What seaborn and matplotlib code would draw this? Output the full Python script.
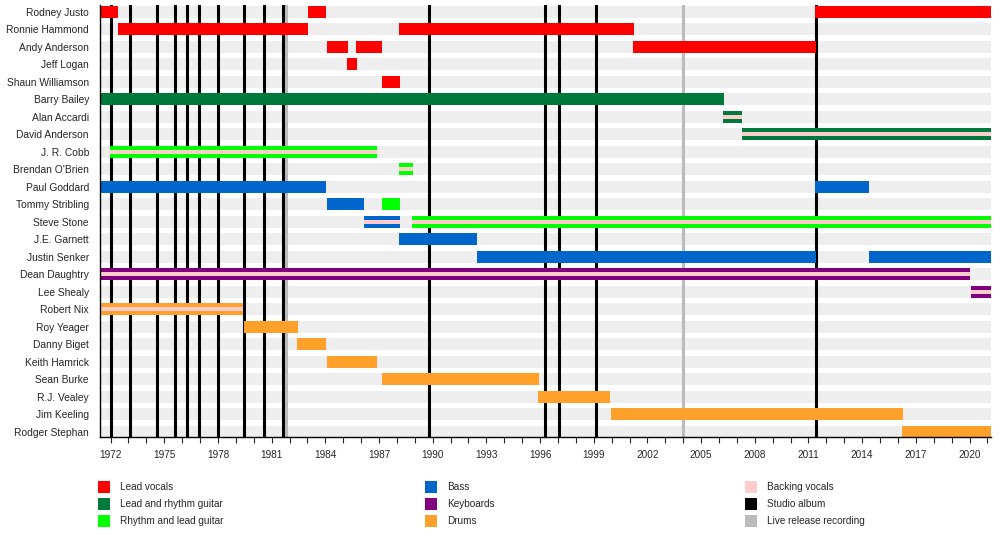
import matplotlib
matplotlib.use("Agg")
import matplotlib.pyplot as plt
import seaborn as sns
from matplotlib.patches import Rectangle

# ---------------------------------------------------------------- data
members = [
    "Rodney Justo", "Ronnie Hammond", "Andy Anderson", "Jeff Logan",
    "Shaun Williamson", "Barry Bailey", "Alan Accardi", "David Anderson",
    "J. R. Cobb", "Brendan O'Brien", "Paul Goddard", "Tommy Stribling",
    "Steve Stone", "J.E. Garnett", "Justin Senker", "Dean Daughtry",
    "Lee Shealy", "Robert Nix", "Roy Yeager", "Danny Biget",
    "Keith Hamrick", "Sean Burke", "R.J. Vealey", "Jim Keeling",
    "Rodger Stephan",
]

# (member, start, end, sings backing vocals)
lead_vocals = [
    ("Rodney Justo", 1971.41, 1972.42, False),
    ("Rodney Justo", 1983.05, 1984.02, False),
    ("Rodney Justo", 2011.38, 2021.2, False),
    ("Ronnie Hammond", 1972.42, 1983.05, False),
    ("Ronnie Hammond", 1988.12, 2001.25, False),
    ("Andy Anderson", 1984.08, 1985.27, False),
    ("Andy Anderson", 1985.72, 1987.17, False),
    ("Andy Anderson", 2001.2, 2011.4, False),
    ("Jeff Logan", 1985.21, 1985.77, False),
    ("Shaun Williamson", 1987.17, 1988.18, False),
]
lead_guitar = [
    ("Barry Bailey", 1971.41, 2006.27, False),
    ("Alan Accardi", 2006.22, 2007.3, True),
    ("David Anderson", 2007.3, 2021.2, True),
]
rhythm_guitar = [
    ("J. R. Cobb", 1971.97, 1986.87, True),
    ("Brendan O'Brien", 1988.12, 1988.9, True),
    ("Tommy Stribling", 1987.17, 1988.18, False),
    ("Steve Stone", 1988.84, 2021.2, True),
]
bass = [
    ("Paul Goddard", 1971.41, 1984.02, False),
    ("Paul Goddard", 2011.38, 2014.38, False),
    ("Tommy Stribling", 1984.08, 1986.15, False),
    ("Steve Stone", 1986.16, 1988.18, True),
    ("J.E. Garnett", 1988.12, 1992.48, False),
    ("Justin Senker", 1992.48, 2011.4, False),
    ("Justin Senker", 2014.38, 2021.2, False),
]
keyboards = [
    ("Dean Daughtry", 1971.41, 2020.03, True),
    ("Lee Shealy", 2020.06, 2021.2, True),
]
drums = [
    ("Robert Nix", 1971.41, 1979.39, True),
    ("Roy Yeager", 1979.47, 1982.46, False),
    ("Danny Biget", 1982.42, 1984.02, False),
    ("Keith Hamrick", 1984.1, 1986.87, False),
    ("Sean Burke", 1987.17, 1995.94, False),
    ("R.J. Vealey", 1995.88, 1999.91, False),
    ("Jim Keeling", 1999.96, 2016.26, False),
    ("Rodger Stephan", 2016.22, 2021.2, False),
]

studio_albums = [1972.03, 1973.09, 1974.61, 1975.6, 1976.29, 1976.96, 1978.02,
                 1979.47, 1980.59, 1981.62, 1989.81, 1996.29, 1997.07,
                 1999.14, 2011.41]
live_releases = [1981.8, 2004.0]

start_year, end_year = 1971.41, 2021.2

# ---------------------------------------------------------------- style
COLORS = {
    "Lead vocals": "#FF0000",
    "Lead and rhythm guitar": "#007A3A",
    "Rhythm and lead guitar": "#00FF00",
    "Bass": "#0066CC",
    "Keyboards": "#800080",
    "Drums": "#FFA02A",
    "Backing vocals": "#FFCCCC",
    "Studio album": "#000000",
    "Live release recording": "#BBBBBB",
}
groups = [
    (lead_vocals, "Lead vocals"),
    (lead_guitar, "Lead and rhythm guitar"),
    (rhythm_guitar, "Rhythm and lead guitar"),
    (bass, "Bass"),
    (keyboards, "Keyboards"),
    (drums, "Drums"),
]

sns.set_style("white")
plt.rcParams["font.family"] = ["Liberation Sans", "DejaVu Sans"]

fig = plt.figure(figsize=(10, 5.37), dpi=100)
ax = fig.add_axes([0.100, 0.1862, 0.891, 0.8045])

BAR_H = 0.68
row = {name: i for i, name in enumerate(members)}

# grey background stripes
ax.barh(range(len(members)), end_year - start_year, left=start_year,
        height=BAR_H, color="#EEEEEE", linewidth=0, zorder=0)

# album lines
for x in studio_albums:
    ax.axvline(x, color=COLORS["Studio album"], lw=2.2, zorder=1)
for x in live_releases:
    ax.axvline(x, color=COLORS["Live release recording"], lw=2.2, zorder=1)

# member bars
for spans, role in groups:
    for name, s, e, backing in spans:
        y = row[name]
        ax.barh(y, e - s, left=s, height=BAR_H, color=COLORS[role],
                linewidth=0, zorder=2)
        if backing:
            ax.barh(y, e - s, left=s, height=BAR_H / 3,
                    color=COLORS["Backing vocals"], linewidth=0, zorder=3)

ax.set_xlim(start_year, end_year)
ax.set_ylim(24.29, -0.39)
ax.set_yticks(range(len(members)))
ax.set_yticklabels(members, fontsize=7.4)
ax.tick_params(axis="y", length=0, pad=8)
ax.set_xticks(range(1972, 2021, 3))
ax.set_xticks(range(1972, 2022), minor=True)
ax.tick_params(axis="x", which="both", direction="out", length=4,
               width=0.8, labelsize=7.2, pad=5, bottom=True)
sns.despine(ax=ax, top=True, right=True)
for side in ("left", "bottom"):
    ax.spines[side].set_color("black")
    ax.spines[side].set_linewidth(1.0)
    ax.spines[side].set_zorder(5)

# legend (three columns)
legend_cols = [
    (0.098, ["Lead vocals", "Lead and rhythm guitar", "Rhythm and lead guitar"]),
    (0.425, ["Bass", "Keyboards", "Drums"]),
    (0.745, ["Backing vocals", "Studio album", "Live release recording"]),
]
row_y = [0.0931, 0.0615, 0.0298]
for x0, labels in legend_cols:
    for yy, lab in zip(row_y, labels):
        fig.patches.append(Rectangle((x0, yy - 0.012), 0.012, 0.024,
                                     transform=fig.transFigure,
                                     color=COLORS[lab], lw=0))
        fig.text(x0 + 0.022, yy, lab, fontsize=7.2, va="center", ha="left")

fig.savefig("out.png", dpi=100)
